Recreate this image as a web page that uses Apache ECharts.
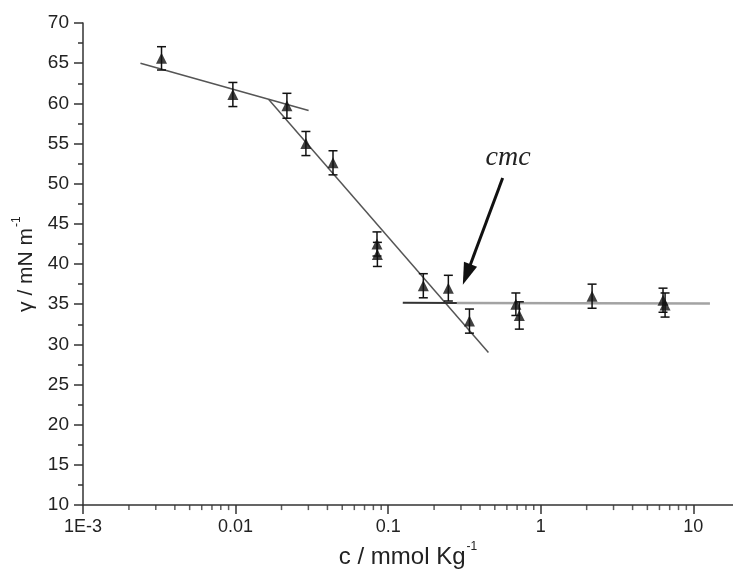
<!DOCTYPE html>
<html>
<head>
<meta charset="utf-8">
<script src="https://cdn.jsdelivr.net/npm/echarts@6/dist/echarts.min.js"></script>
<style>
html,body{margin:0;padding:0;background:#fff;}
#chart{width:733px;height:574px;}
</style>
</head>
<body>
<div id="chart"></div>
<script>
// ---- data ----
const conc  = [0.00327, 0.0096, 0.0217, 0.0289, 0.0435, 0.0845, 0.0850, 0.170, 0.248, 0.341, 0.687, 0.724, 2.17, 6.33, 6.53];
const gamma = [65.6, 61.1, 59.7, 55.0, 52.6, 42.5, 41.2, 37.3, 37.0, 32.9, 35.0, 33.6, 36.0, 35.5, 34.9];
const gammaErr = [1.45, 1.5, 1.55, 1.5, 1.5, 1.5, 1.5, 1.5, 1.6, 1.5, 1.4, 1.7, 1.5, 1.5, 1.5];

const fitLowX = [0.00238, 0.0301];
const fitLowY = [65.0, 59.1];
const fitSteepX = [0.01644, 0.454];
const fitSteepY = [60.5, 29.0];
const fitPlateauDarkX = [0.1247, 0.282];
const fitPlateauDarkY = [35.17, 35.15];
const fitPlateauGreyX = [0.282, 12.85];
const fitPlateauGreyY = [35.15, 35.1];

const arrowFrom = [0.563, 50.72];
const arrowTo = [0.327, 38.7];
const cmcLabelPos = [0.611, 53.2];

const xTickValues = [0.001, 0.01, 0.1, 1, 10];
const xTickLabels = ['1E-3', '0.01', '0.1', '1', '10'];
const xMinorMultipliers = [2, 3, 4, 5, 6, 7, 8, 9];
const xMinorDecades = [0.001, 0.01, 0.1, 1];

// ---- build ----
const pts = conc.map((c, i) => [c, gamma[i]]);
const errData = conc.map((c, i) => [c, gamma[i], gammaErr[i]]);
const minorTicks = [];
xMinorDecades.forEach(d => xMinorMultipliers.forEach(m => minorTicks.push([d * m, 10])));
const pair = (xs, ys) => xs.map((x, i) => [x, ys[i]]);

const chart = echarts.init(document.getElementById('chart'), null, {renderer: 'canvas'});
const axisColor = '#333';
const textColor = '#222';

const option = {
  animation: false,
  grid: {left: 83, right: 0, top: 23, bottom: 63, containLabel: false},
  xAxis: {
    type: 'log', logBase: 10, min: 0.001, max: 18.2,
    name: '{a|c / mmol Kg}{s|-1}',
    nameLocation: 'middle', nameGap: 34,
    nameTextStyle: {
      rich: {
        a: {fontFamily: 'Liberation Sans', fontSize: 24, color: textColor, lineHeight: 28, verticalAlign: 'bottom'},
        s: {fontFamily: 'Liberation Sans', fontSize: 12, color: textColor, lineHeight: 28, verticalAlign: 'top', padding: [0, 0, 0, 1]}
      }
    },
    axisLine: {show: true, onZero: false, lineStyle: {color: axisColor, width: 1.5}},
    axisTick: {show: true, inside: false, length: 9, lineStyle: {color: axisColor, width: 1.5}},
    splitLine: {show: false},
    axisLabel: {
      margin: 13, fontFamily: 'Liberation Sans', fontSize: 18, color: textColor,
      showMaxLabel: false,
      formatter: function (v) {
        for (let i = 0; i < xTickValues.length; i++) {
          if (Math.abs(Math.log10(v) - Math.log10(xTickValues[i])) < 1e-6) return xTickLabels[i];
        }
        return '';
      }
    }
  },
  yAxis: {
    type: 'value', min: 10, max: 70, interval: 5,
    name: '{a|γ / mN m}{s|-1}',
    nameLocation: 'middle', nameGap: 45, nameRotate: 90,
    nameTextStyle: {
      rich: {
        a: {fontFamily: 'Liberation Sans', fontSize: 21, color: textColor, lineHeight: 26, verticalAlign: 'bottom'},
        s: {fontFamily: 'Liberation Sans', fontSize: 12, color: textColor, lineHeight: 26, verticalAlign: 'top', padding: [0, 0, 0, 1]}
      }
    },
    axisLine: {show: true, onZero: false, lineStyle: {color: axisColor, width: 1.5}},
    axisTick: {show: true, inside: false, length: 9, lineStyle: {color: axisColor, width: 1.5}},
    minorTick: {show: true, splitNumber: 2, length: 5, lineStyle: {color: axisColor, width: 1.5}},
    splitLine: {show: false},
    minorSplitLine: {show: false},
    axisLabel: {margin: 14, fontFamily: 'Liberation Sans', fontSize: 19, color: textColor}
  },
  series: [
    {
      name: 'minorTicks', type: 'scatter', data: minorTicks, silent: true,
      symbol: 'rect', symbolSize: [1.5, 5], symbolOffset: [0, 2.5],
      itemStyle: {color: axisColor}, clip: false, z: 1
    },
    {
      name: 'fitLow', type: 'line', data: pair(fitLowX, fitLowY), showSymbol: false, symbol: 'none',
      lineStyle: {color: '#555', width: 1.5}, silent: true, z: 2
    },
    {
      name: 'fitSteep', type: 'line', data: pair(fitSteepX, fitSteepY), showSymbol: false, symbol: 'none',
      lineStyle: {color: '#555', width: 1.5}, silent: true, z: 2
    },
    {
      name: 'fitPlateauGrey', type: 'line', data: pair(fitPlateauGreyX, fitPlateauGreyY), showSymbol: false, symbol: 'none',
      lineStyle: {color: '#a3a3a3', width: 2.5}, silent: true, z: 2
    },
    {
      name: 'fitPlateauDark', type: 'line', data: pair(fitPlateauDarkX, fitPlateauDarkY), showSymbol: false, symbol: 'none',
      lineStyle: {color: '#333', width: 2}, silent: true, z: 2,
      markLine: {
        silent: true, symbol: ['none', 'triangle'], symbolSize: [14, 22],
        label: {show: false},
        itemStyle: {color: '#111'},
        lineStyle: {color: '#111', width: 3, type: 'solid'},
        data: [[{coord: arrowFrom}, {coord: arrowTo}]]
      }
    },
    {
      name: 'errors', type: 'custom', data: errData, silent: true, z: 3,
      renderItem: function (params, api) {
        const x = api.value(0), y = api.value(1), e = api.value(2);
        const top = api.coord([x, y + e]);
        const bot = api.coord([x, y - e]);
        const hw = 4.5;
        const st = {stroke: '#111', lineWidth: 1.5};
        return {
          type: 'group',
          children: [
            {type: 'line', shape: {x1: top[0], y1: top[1], x2: bot[0], y2: bot[1]}, style: st},
            {type: 'line', shape: {x1: top[0] - hw, y1: top[1], x2: top[0] + hw, y2: top[1]}, style: st},
            {type: 'line', shape: {x1: bot[0] - hw, y1: bot[1], x2: bot[0] + hw, y2: bot[1]}, style: st}
          ]
        };
      }
    },
    {
      name: 'gamma', type: 'scatter', data: pts, symbol: 'triangle', symbolSize: 11,
      itemStyle: {color: '#111'}, z: 4
    }
  ]
};
chart.setOption(option);

const p = chart.convertToPixel({gridIndex: 0}, cmcLabelPos);
chart.setOption({
  graphic: [{
    type: 'text', x: p[0], y: p[1], silent: true,
    style: {
      text: 'cmc', fontFamily: 'Liberation Serif', fontStyle: 'italic', fontSize: 28,
      fill: '#222', align: 'center', verticalAlign: 'middle'
    }
  }]
});
</script>
</body>
</html>
